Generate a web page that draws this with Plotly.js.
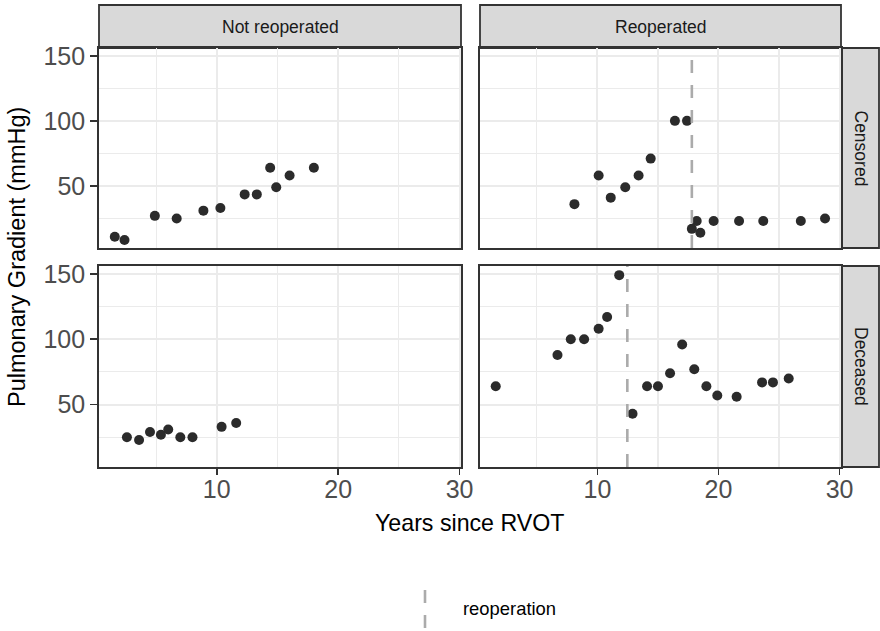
<!DOCTYPE html>
<html>
<head>
<meta charset="utf-8">
<script src="https://cdn.plot.ly/plotly-3.0.1.min.js"></script>
<style>html,body{margin:0;padding:0;background:#fff;}#plot{width:880px;height:631px;}</style>
</head>
<body>
<div id="plot"></div>
<script>
// Facet labels
const colFacets = ['Not reoperated', 'Reoperated'];
const rowFacets = ['Censored', 'Deceased'];

// Not reoperated / Censored
const nrCensX = [1.6, 2.4, 4.9, 6.7, 8.9, 10.3, 12.3, 13.3, 14.4, 14.9, 16.0, 18.0];
const nrCensY = [11, 8.5, 27, 25, 31, 33, 43.5, 43.5, 64, 49, 58, 64];
// Reoperated / Censored
const reCensX = [8.1, 10.1, 11.1, 12.3, 13.4, 14.4, 16.4, 17.4, 17.8, 18.2, 18.5, 19.6, 21.7, 23.7, 26.8, 28.8];
const reCensY = [36, 58, 41, 49, 58, 71, 100, 100, 17, 23, 14, 23, 23, 23, 23, 25];
// Not reoperated / Deceased
const nrDecX = [2.6, 3.6, 4.5, 5.4, 6.0, 7.0, 8.0, 10.4, 11.6];
const nrDecY = [25, 23, 29, 27, 31, 25, 25, 33, 36];
// Reoperated / Deceased
const reDecX = [1.6, 6.7, 7.8, 8.9, 10.1, 10.8, 11.8, 12.9, 14.1, 15.0, 16.0, 17.0, 18.0, 19.0, 19.9, 21.5, 23.6, 24.5, 25.8];
const reDecY = [64, 88, 100, 100, 108, 117, 149, 43, 64, 64, 74, 96, 77, 64, 57, 56, 67, 67, 70];
// Reoperation times
const reopCensored = [17.8];
const reopDeceased = [12.47];

const xTicks = [10, 20, 30];
const yTicks = [50, 100, 150];

const W = 880, H = 631;
const px = v => v / W;
const py = v => 1 - v / H;

const FONT = 'Liberation Sans, Arial, Helvetica, sans-serif';
const ptColor = '#2b2b2b';
const vlineColor = '#ababab';
const dashPat = '13px,12px';

function pts(x, y, xa, ya) {
  return {type: 'scatter', mode: 'markers', x: x, y: y, xaxis: xa, yaxis: ya,
    marker: {size: 10, color: ptColor}, showlegend: false, hoverinfo: 'x+y'};
}

const data = [
  pts(nrCensX, nrCensY, 'x', 'y'),
  pts(reCensX, reCensY, 'x2', 'y2'),
  pts(nrDecX, nrDecY, 'x3', 'y3'),
  pts(reDecX, reDecY, 'x4', 'y4')
];

const xRange = [0.3, 30.12];
const yRange = [2.3, 156];

const xDomL = [px(99), px(461)];
const xDomR = [px(480), px(841)];
const yDomT = [py(248), py(48)];
const yDomB = [py(467), py(266)];

function xax(domain, anchor, showLabels) {
  return {domain: domain, anchor: anchor, range: xRange, tickvals: xTicks,
    ticktext: xTicks.map(String), showticklabels: showLabels,
    ticks: showLabels ? 'outside' : '', ticklen: 6, tickwidth: 1.6, tickcolor: '#333333',
    ticklabelstandoff: -7,
    tickfont: {family: FONT, size: 25, color: '#4d4d4d'},
    showgrid: true, gridcolor: '#ebebeb', gridwidth: 2,
    minor: {tickvals: [5, 15, 25], showgrid: true, gridcolor: '#ebebeb', gridwidth: 1.1, ticks: ''},
    showline: true, mirror: true, linecolor: '#333333', linewidth: 1.8,
    zeroline: false, fixedrange: true};
}
function yax(domain, anchor, showLabels) {
  return {domain: domain, anchor: anchor, range: yRange, tickvals: yTicks,
    ticktext: yTicks.map(String), showticklabels: showLabels,
    ticks: showLabels ? 'outside' : '', ticklen: 7, tickwidth: 1.6, tickcolor: '#333333',
    tickfont: {family: FONT, size: 25, color: '#4d4d4d'},
    showgrid: true, gridcolor: '#ebebeb', gridwidth: 2,
    minor: {tickvals: [25, 75, 125], showgrid: true, gridcolor: '#ebebeb', gridwidth: 1.1, ticks: ''},
    showline: true, mirror: true, linecolor: '#333333', linewidth: 1.8,
    zeroline: false, fixedrange: true};
}

const shapes = [];
// reoperation vertical dashed lines
reopCensored.forEach(t => shapes.push({type: 'line', xref: 'x2', yref: 'y2 domain', x0: t, x1: t, y0: 0, y1: 1,
  line: {color: vlineColor, width: 2.6, dash: dashPat}, layer: 'above'}));
reopDeceased.forEach(t => shapes.push({type: 'line', xref: 'x4', yref: 'y4 domain', x0: t, x1: t, y0: 0, y1: 1,
  line: {color: vlineColor, width: 2.6, dash: dashPat}, layer: 'above'}));

// strips
const stripStyle = {fillcolor: '#d9d9d9', line: {color: '#333333', width: 1.8}, layer: 'below'};
shapes.push(Object.assign({type: 'rect', xref: 'paper', yref: 'paper', x0: xDomL[0], x1: xDomL[1], y0: py(48), y1: py(5)}, stripStyle));
shapes.push(Object.assign({type: 'rect', xref: 'paper', yref: 'paper', x0: xDomR[0], x1: xDomR[1], y0: py(48), y1: py(5)}, stripStyle));
shapes.push(Object.assign({type: 'rect', xref: 'paper', yref: 'paper', x0: px(842), x1: px(879), y0: yDomT[0], y1: yDomT[1]}, stripStyle));
shapes.push(Object.assign({type: 'rect', xref: 'paper', yref: 'paper', x0: px(842), x1: px(879), y0: yDomB[0], y1: yDomB[1]}, stripStyle));

// legend key
shapes.push({type: 'line', xref: 'paper', yref: 'paper', x0: px(425), x1: px(425), y0: py(590), y1: py(628),
  line: {color: vlineColor, width: 2.6, dash: dashPat}});

const annotations = [
  {text: colFacets[0], xref: 'paper', yref: 'paper', x: (xDomL[0] + xDomL[1]) / 2, y: py(26.5), showarrow: false,
    font: {family: FONT, size: 17.5, color: '#1a1a1a'}, xanchor: 'center', yanchor: 'middle'},
  {text: colFacets[1], xref: 'paper', yref: 'paper', x: (xDomR[0] + xDomR[1]) / 2, y: py(26.5), showarrow: false,
    font: {family: FONT, size: 17.5, color: '#1a1a1a'}, xanchor: 'center', yanchor: 'middle'},
  {text: rowFacets[0], xref: 'paper', yref: 'paper', x: px(860.5), y: (yDomT[0] + yDomT[1]) / 2, showarrow: false,
    textangle: 90, font: {family: FONT, size: 17.5, color: '#1a1a1a'}, xanchor: 'center', yanchor: 'middle'},
  {text: rowFacets[1], xref: 'paper', yref: 'paper', x: px(860.5), y: (yDomB[0] + yDomB[1]) / 2, showarrow: false,
    textangle: 90, font: {family: FONT, size: 17.5, color: '#1a1a1a'}, xanchor: 'center', yanchor: 'middle'},
  {text: 'Years since RVOT', xref: 'paper', yref: 'paper', x: px(469.5), y: py(523), showarrow: false,
    font: {family: FONT, size: 23.2, color: '#000000'}, xanchor: 'center', yanchor: 'middle'},
  {text: 'Pulmonary Gradient (mmHg)', xref: 'paper', yref: 'paper', x: px(17), y: py(257), showarrow: false,
    textangle: -90, font: {family: FONT, size: 23.5, color: '#000000'}, xanchor: 'center', yanchor: 'middle'},
  {text: 'reoperation', xref: 'paper', yref: 'paper', x: px(461), y: py(608), showarrow: false,
    font: {family: FONT, size: 18.4, color: '#000000'}, xanchor: 'left', yanchor: 'middle'}
];

const layout = {
  width: W, height: H, autosize: false,
  margin: {l: 0, r: 0, t: 0, b: 0, pad: 0},
  paper_bgcolor: '#ffffff', plot_bgcolor: '#ffffff',
  showlegend: false,
  font: {family: FONT},
  xaxis: xax(xDomL, 'y', false),
  xaxis2: xax(xDomR, 'y2', false),
  xaxis3: xax(xDomL, 'y3', true),
  xaxis4: xax(xDomR, 'y4', true),
  yaxis: yax(yDomT, 'x', true),
  yaxis2: yax(yDomT, 'x2', false),
  yaxis3: yax(yDomB, 'x3', true),
  yaxis4: yax(yDomB, 'x4', false),
  shapes: shapes,
  annotations: annotations
};

Plotly.newPlot('plot', data, layout, {displayModeBar: false, staticPlot: true});
</script>
</body>
</html>
